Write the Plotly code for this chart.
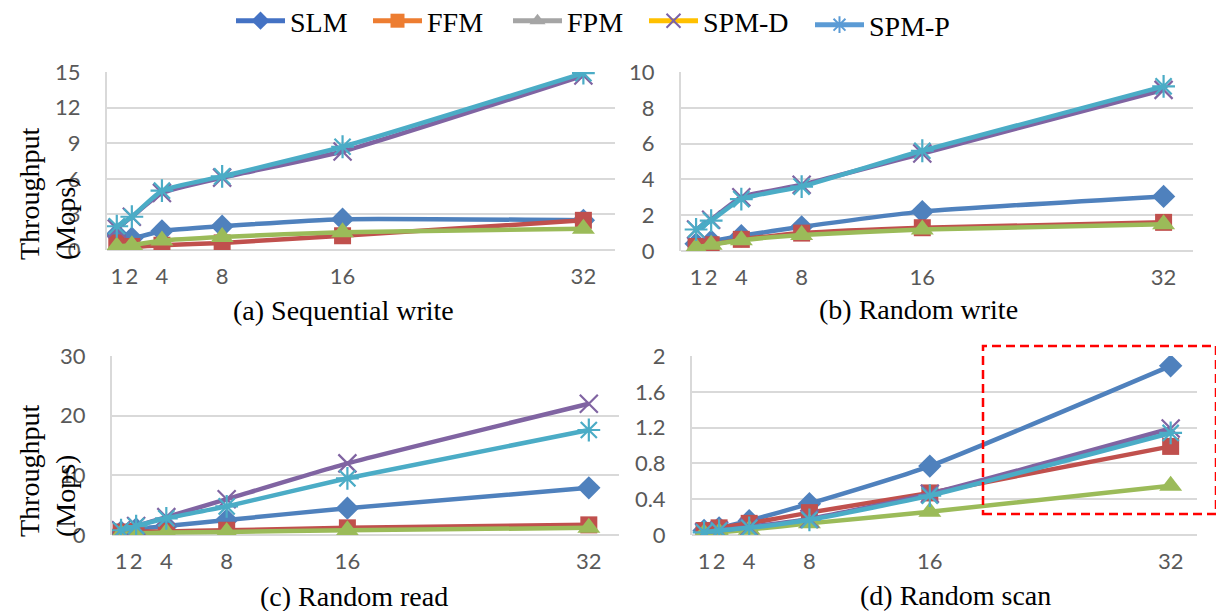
import plotly.graph_objects as go

threads = [1, 2, 4, 8, 16, 32]
tick_labels = ["1", "2", "4", "8", "16", "32"]
series_names = ["SLM", "FFM", "FPM", "SPM-D", "SPM-P"]

# (a) Sequential write
seq_write = {
    "SLM":   [1.3, 1.0, 1.6, 2.0, 2.6, 2.5],
    "FFM":   [0.6, 0.3, 0.4, 0.6, 1.2, 2.5],
    "FPM":   [0.3, 0.4, 0.8, 1.1, 1.5, 1.8],
    "SPM-D": [1.8, 2.8, 4.8, 6.1, 8.3, 14.7],
    "SPM-P": [2.0, 2.8, 5.0, 6.2, 8.7, 14.9],
}
# (b) Random write
rand_write = {
    "SLM":   [0.4, 0.55, 0.85, 1.35, 2.2, 3.05],
    "FFM":   [0.25, 0.35, 0.65, 1.0, 1.3, 1.6],
    "FPM":   [0.2, 0.35, 0.6, 0.9, 1.2, 1.5],
    "SPM-D": [1.2, 1.75, 3.0, 3.7, 5.45, 9.0],
    "SPM-P": [1.2, 1.7, 2.9, 3.6, 5.6, 9.2],
}
# (c) Random read
rand_read = {
    "SLM":   [0.5, 1.0, 1.5, 2.5, 4.5, 7.9],
    "FFM":   [0.5, 0.6, 0.6, 0.8, 1.2, 1.7],
    "FPM":   [0.2, 0.3, 0.4, 0.5, 0.8, 1.2],
    "SPM-D": [0.8, 1.5, 3.0, 6.0, 12.0, 22.0],
    "SPM-P": [0.8, 1.5, 2.8, 4.8, 9.5, 17.6],
}
# (d) Random scan
rand_scan = {
    "SLM":   [0.05, 0.08, 0.16, 0.35, 0.77, 1.89],
    "FFM":   [0.05, 0.08, 0.13, 0.25, 0.47, 0.99],
    "FPM":   [0.02, 0.03, 0.06, 0.13, 0.26, 0.55],
    "SPM-D": [0.03, 0.05, 0.09, 0.18, 0.46, 1.19],
    "SPM-P": [0.03, 0.05, 0.08, 0.17, 0.44, 1.14],
}

panels = [seq_write, rand_write, rand_read, rand_scan]
panel_titles = ["(a) Sequential write", "(b) Random write", "(c) Random read", "(d) Random scan"]
y_ranges = [[0, 15], [0, 10], [0, 30], [0, 2]]
y_dticks = [3, 2, 10, 0.4]

line_colors = {"SLM": "#4F81BD", "FFM": "#C0504D", "FPM": "#9BBB59",
               "SPM-D": "#8064A2", "SPM-P": "#4BACC6"}
legend_line_colors = {"SLM": "#4472C4", "FFM": "#ED7D31", "FPM": "#A5A5A5",
                      "SPM-D": "#FFC000", "SPM-P": "#5B9BD5"}
legend_marker_colors = {"SLM": "#4472C4", "FFM": "#ED7D31", "FPM": "#A5A5A5",
                        "SPM-D": "#7A62A8", "SPM-P": "#5B9BD5"}
symbols = {"SLM": "diamond", "FFM": "square", "FPM": "triangle-up",
           "SPM-D": "x-thin-open", "SPM-P": "asterisk-open"}
sizes = {"SLM": 18, "FFM": 17, "FPM": 20, "SPM-D": 18, "SPM-P": 19}

# the page body has an 8px margin; figure is sized to fit the 1224x611 window
OFF = 8
W, H = 1224 - OFF, 611 - OFF


def px(x):
    return (x - OFF) / W


def py(y):
    return 1 - (y - OFF) / H


# plot areas in window pixels (left, right, top, bottom)
areas = [(107, 615, 72, 250), (681, 1193, 72, 251), (112, 619, 356, 535), (692, 1197, 356, 535)]
x_ranges = [[0.35, 34.1], [0.0, 33.95], [0.4, 34.0], [0.2, 33.75]]
legend_pos = [(231, 21), (368, 21), (508, 21), (644, 21), (810, 25)]

fig = go.Figure()

for i, data in enumerate(panels):
    ax = "" if i == 0 else str(i + 1)
    for name in series_names:
        sym = symbols[name]
        marker = dict(symbol=sym, size=sizes[name], color=line_colors[name])
        if sym.endswith("open"):
            marker["line"] = dict(width=2.2, color=line_colors[name])
        fig.add_trace(go.Scatter(
            x=threads, y=data[name], mode="lines+markers",
            line=dict(color=line_colors[name], width=4.5, shape="spline", smoothing=0.5),
            marker=marker, showlegend=False, name=name,
            xaxis="x" + ax, yaxis="y" + ax,
        ))

layout = dict(
    width=W, height=H,
    margin=dict(l=0, r=0, t=0, b=0, autoexpand=False),
    paper_bgcolor="white", plot_bgcolor="white",
    showlegend=True,
    annotations=[], shapes=[],
)

# legend-only entries, each in its own legend box
for k, name in enumerate(series_names):
    sym = symbols[name]
    marker = dict(symbol=sym, size=14, color=legend_marker_colors[name])
    if sym.endswith("open"):
        marker["line"] = dict(width=2, color=legend_marker_colors[name])
    lg = "legend" if k == 0 else "legend" + str(k + 1)
    fig.add_trace(go.Scatter(
        x=[None], y=[None], mode="lines+markers", name=name,
        line=dict(color=legend_line_colors[name], width=5),
        marker=marker, showlegend=True, xaxis="x", yaxis="y", legend=lg,
    ))
    lx, ly = legend_pos[k]
    layout[lg] = dict(orientation="h", x=px(lx), xanchor="left", y=py(ly), yanchor="middle",
                      font=dict(family="Liberation Serif", size=28, color="black"),
                      itemwidth=49, bgcolor="rgba(0,0,0,0)")

tick_font = dict(family="Lato", size=22, color="#595959")
for i in range(4):
    l, r, t, b = areas[i]
    key = "" if i == 0 else str(i + 1)
    layout["xaxis" + key] = dict(
        domain=[px(l), px(r)], range=x_ranges[i], anchor="y" + key,
        tickvals=threads, ticktext=tick_labels, tickfont=tick_font,
        showgrid=False, zeroline=False, showline=False, ticks="",
        ticklabelstandoff=11,
    )
    layout["yaxis" + key] = dict(
        domain=[py(b), py(t)], range=y_ranges[i], anchor="x" + key,
        dtick=y_dticks[i], tick0=0, tickfont=tick_font,
        showgrid=True, gridcolor="#D9D9D9", gridwidth=2,
        zeroline=True, zerolinecolor="#D9D9D9", zerolinewidth=2,
        showline=True, linecolor="#D9D9D9", linewidth=2, ticks="",
        ticklabelstandoff=20,
    )

title_pos = [(343, 310), (918, 309), (354, 596), (955, 595)]
for i, (tx, ty) in enumerate(title_pos):
    layout["annotations"].append(dict(
        text=panel_titles[i], x=px(tx), y=py(ty), xref="paper", yref="paper",
        xanchor="center", yanchor="middle", showarrow=False,
        font=dict(family="Liberation Serif", size=28, color="black"),
    ))

for cy in (194, 471):
    layout["annotations"].append(dict(
        text="Throughput<br>(Mops)", x=px(48), y=py(cy), xref="paper", yref="paper",
        xanchor="center", yanchor="middle", showarrow=False, textangle=-90, align="left",
        font=dict(family="Liberation Serif", size=28, color="black"),
    ))

layout["shapes"].append(dict(
    type="rect", xref="paper", yref="paper",
    x0=px(983), x1=px(1216), y0=py(514), y1=py(346),
    line=dict(color="#FF0000", width=2.5, dash="9px,5px"), fillcolor="rgba(0,0,0,0)",
))

fig.update_layout(**layout)
fig.write_html("out.html")
